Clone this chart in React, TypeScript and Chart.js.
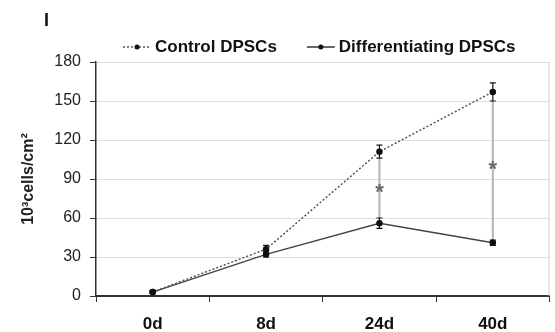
import React, { useEffect, useRef } from 'react';
import { Chart, registerables } from 'chart.js';

Chart.register(...registerables);

const categories = ['0d', '8d', '24d', '40d'];
const controlValues = [3, 36, 111, 157];
const controlErrors = [1, 3, 5, 7];
const diffValues = [3, 32, 56, 41];
const diffErrors = [1, 2, 4, 2];
const asteriskValues: (number | null)[] = [null, null, 83, 101];
const yTicks = [0, 30, 60, 90, 120, 150, 180];
const legendLabels = ['Control DPSCs', 'Differentiating DPSCs'];
const panelLabel = 'I';
const yTitle = '10³cells/cm²';

const FAMILY = '"Liberation Sans", Arial, Helvetica, sans-serif';

const annotationPlugin = {
  id: 'annotations',
  beforeDatasetsDraw(chart: any) {
    const ctx = chart.ctx;
    const y = chart.scales.y;
    const m0 = chart.getDatasetMeta(0);
    ctx.save();
    asteriskValues.forEach((a, i) => {
      if (a === null) return;
      const x = m0.data[i].x;
      const top = y.getPixelForValue(controlValues[i] - controlErrors[i]);
      const bot = y.getPixelForValue(diffValues[i] + diffErrors[i]);
      ctx.strokeStyle = '#b4b4b4';
      ctx.lineWidth = 2;
      ctx.beginPath();
      ctx.moveTo(x, top);
      ctx.lineTo(x, bot);
      ctx.stroke();
      ctx.fillStyle = '#6a6a6a';
      ctx.font = `bold 22px ${FAMILY}`;
      ctx.textAlign = 'center';
      ctx.textBaseline = 'middle';
      ctx.fillText('*', x, y.getPixelForValue(a) + 5);
    });
    ctx.restore();
  },
  afterDatasetsDraw(chart: any) {
    const ctx = chart.ctx;
    const y = chart.scales.y;
    const sets = [
      { vals: controlValues, errs: controlErrors },
      { vals: diffValues, errs: diffErrors },
    ];
    ctx.save();
    ctx.strokeStyle = '#111';
    ctx.lineWidth = 1.2;
    sets.forEach((s, di) => {
      const meta = chart.getDatasetMeta(di);
      s.vals.forEach((v, i) => {
        const x = meta.data[i].x;
        const t = y.getPixelForValue(v + s.errs[i]);
        const b = y.getPixelForValue(v - s.errs[i]);
        ctx.beginPath();
        ctx.moveTo(x, t);
        ctx.lineTo(x, b);
        ctx.moveTo(x - 3, t);
        ctx.lineTo(x + 3, t);
        ctx.moveTo(x - 3, b);
        ctx.lineTo(x + 3, b);
        ctx.stroke();
      });
    });
    ctx.restore();
  },
  afterDraw(chart: any) {
    const ctx = chart.ctx;
    const area = chart.chartArea;
    ctx.save();
    // right border of plot area
    ctx.strokeStyle = '#cfcfcf';
    ctx.lineWidth = 1;
    ctx.beginPath();
    ctx.moveTo(area.right - 0.5, area.top);
    ctx.lineTo(area.right - 0.5, area.bottom);
    ctx.stroke();

    // panel label
    ctx.fillStyle = '#111';
    ctx.font = `bold 18px ${FAMILY}`;
    ctx.textAlign = 'left';
    ctx.textBaseline = 'middle';
    ctx.fillText(panelLabel, 44, 21);

    // legend
    const ly = 47;
    ctx.font = `bold 17px ${FAMILY}`;
    let x = 123;
    legendLabels.forEach((label, i) => {
      ctx.strokeStyle = i === 0 ? '#555' : '#333';
      ctx.lineWidth = 1.5;
      ctx.setLineDash(i === 0 ? [2, 2] : []);
      ctx.beginPath();
      ctx.moveTo(x, ly);
      ctx.lineTo(x + 28, ly);
      ctx.stroke();
      ctx.setLineDash([]);
      ctx.fillStyle = '#111';
      ctx.beginPath();
      ctx.arc(x + 14, ly, 2.5, 0, Math.PI * 2);
      ctx.fill();
      ctx.fillStyle = '#111';
      ctx.fillText(label, x + 32, ly);
      x += 32 + ctx.measureText(label).width + 30;
    });
    ctx.restore();
  },
};

export default function App() {
  const ref = useRef<HTMLCanvasElement | null>(null);
  useEffect(() => {
    document.body.style.margin = '0';
    const chart = new Chart(ref.current as HTMLCanvasElement, {
      type: 'line',
      data: {
        labels: categories,
        datasets: [
          {
            label: legendLabels[0],
            data: controlValues,
            borderColor: '#555',
            borderWidth: 1.5,
            borderDash: [2, 2],
            pointRadius: 2.5,
            pointBackgroundColor: '#111',
            pointBorderColor: '#111',
            tension: 0,
          },
          {
            label: legendLabels[1],
            data: diffValues,
            borderColor: '#444',
            borderWidth: 1.5,
            pointRadius: 2.5,
            pointBackgroundColor: '#111',
            pointBorderColor: '#111',
            tension: 0,
          },
        ],
      },
      options: {
        animation: false,
        responsive: true,
        maintainAspectRatio: false,
        layout: { padding: { top: 62, right: 2, left: 0, bottom: 0 } },
        plugins: { legend: { display: false }, tooltip: { enabled: false } },
        scales: {
          x: {
            offset: true,
            grid: { drawOnChartArea: false, tickLength: 6, tickColor: '#333', offset: true },
            border: { color: '#333', width: 2 },
            ticks: { font: { family: FAMILY, size: 17, weight: 'bold' }, color: '#111', padding: 12 },
            afterFit: (s: any) => { s.height = 36; },
          },
          y: {
            min: 0,
            max: 180,
            afterBuildTicks: (s: any) => { s.ticks = yTicks.map((v) => ({ value: v })); },
            ticks: { font: { family: FAMILY, size: 16 }, color: '#222', padding: 9 },
            grid: { color: '#dedede', tickLength: 6, tickColor: '#333', lineWidth: 1 },
            border: { color: '#333', width: 1.5 },
            title: {
              display: true,
              text: yTitle,
              font: { family: FAMILY, size: 16, weight: 'bold' },
              color: '#222',
              padding: { top: 19, bottom: 0 },
            },
            afterFit: (s: any) => { s.width = 96; },
          },
        },
      } as any,
      plugins: [annotationPlugin],
    });
    return () => chart.destroy();
  }, []);
  return (
    <div style={{ width: 555, height: 332, position: 'relative' }}>
      <canvas ref={ref} />
    </div>
  );
}
